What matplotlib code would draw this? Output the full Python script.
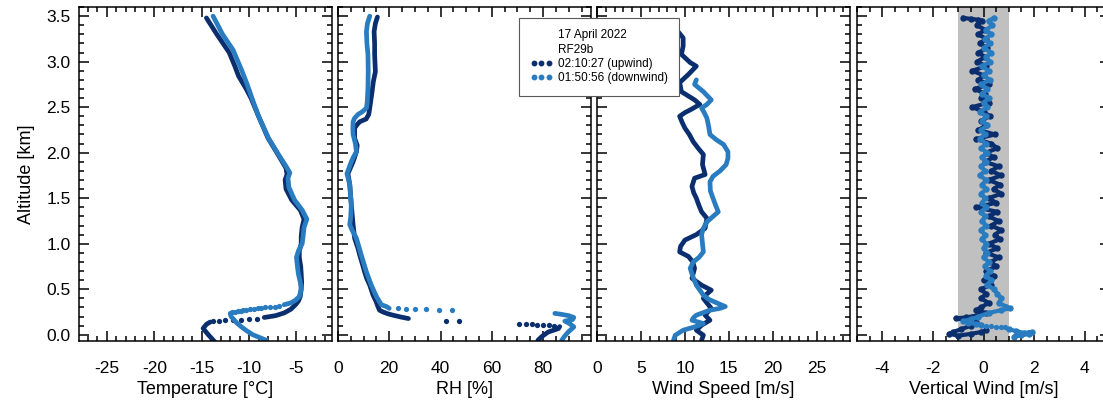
import matplotlib

matplotlib.use('Agg')
import matplotlib.pyplot as plt
from matplotlib.lines import Line2D
from matplotlib.ticker import MultipleLocator

plt.rcParams['font.family'] = ['Liberation Sans', 'DejaVu Sans']
plt.rcParams['axes.unicode_minus'] = False

DARK = '#0b2f6e'   # 02:10:27 upwind
LIGHT = '#2a7cc1'  # 01:50:56 downwind

# ---------------- Temperature [C] ----------------
temp_up_alt = [3.48, 3.30, 3.10, 2.95, 2.84, 2.70, 2.60, 2.40, 2.16, 1.98, 1.83, 1.76, 1.70,
               1.60, 1.48, 1.37, 1.27, 1.18, 1.08, 1.00, 0.92, 0.85, 0.75, 0.67, 0.58, 0.50,
               0.42, 0.37, 0.33, 0.28, 0.24, 0.21, 0.19]
temp_up = [-14.5, -13.4, -12.1, -11.5, -11.1, -10.3, -9.8, -9.0, -8.0, -6.95, -6.1, -6.0, -6.2,
           -6.1, -5.5, -4.6, -4.2, -4.4, -4.5, -4.5, -4.7, -4.7, -4.55, -4.5, -4.45, -4.5,
           -4.6, -4.8, -5.1, -5.6, -6.3, -7.2, -8.4]
temp_up_dots_alt = [0.175, 0.17, 0.165, 0.16, 0.16, 0.155, 0.15]
temp_up_dots = [-9.2, -10.0, -10.9, -11.7, -12.5, -13.2, -13.8]
temp_up_low_alt = [0.14, 0.115, 0.07, 0.0, -0.08]
temp_up_low = [-14.1, -14.5, -14.85, -14.3, -13.6]

temp_dn_alt = [3.50, 3.30, 3.13, 2.91, 2.75, 2.60, 2.40, 2.16, 1.98, 1.85, 1.78, 1.72, 1.62,
               1.48, 1.37, 1.27, 1.18, 1.08, 1.00, 0.92, 0.85, 0.75, 0.67, 0.58, 0.50, 0.42,
               0.38, 0.35, 0.33]
temp_dn = [-13.8, -12.8, -11.7, -10.8, -10.2, -9.7, -9.0, -7.95, -6.9, -6.1, -5.7, -5.9, -5.8,
           -5.2, -4.4, -3.9, -4.2, -4.3, -4.4, -4.8, -5.0, -4.9, -4.8, -4.6, -4.5, -4.7,
           -5.1, -5.6, -6.3]
temp_dn_dots_alt = [0.315, 0.31, 0.305, 0.30, 0.295, 0.29, 0.285, 0.28, 0.275, 0.27, 0.265,
                    0.26, 0.255, 0.25]
temp_dn_dots = [-6.8, -7.3, -7.8, -8.3, -8.7, -9.1, -9.5, -9.9, -10.3, -10.6, -10.9, -11.2,
                -11.5, -11.8]
temp_dn_low_alt = [0.235, 0.20, 0.178, 0.13, 0.086, 0.04, 0.0, -0.06]
temp_dn_low = [-12.0, -11.9, -11.7, -11.3, -10.8, -10.2, -9.6, -8.2]

# ---------------- RH [%] ----------------
rh_up_alt = [3.49, 3.42, 3.33, 3.20, 3.08, 2.89, 2.78, 2.67, 2.49, 2.42, 2.37, 2.34, 2.30, 2.27,
             2.16, 2.08, 2.01, 1.95, 1.90, 1.77, 1.65, 1.43, 1.21, 1.06, 0.95, 0.875, 0.78,
             0.69, 0.62, 0.545, 0.435, 0.37, 0.31, 0.27, 0.25, 0.23, 0.215, 0.195, 0.178]
rh_up = [15.4, 14.6, 14.1, 14.3, 14.3, 14.6, 13.8, 13.3, 12.4, 12.0, 11.0, 8.5, 7.2, 6.5,
         6.5, 7.5, 7.2, 6.5, 5.9, 3.9, 4.6, 5.2, 5.9, 6.5, 7.8, 8.5, 9.5,
         10.4, 11.2, 12.4, 13.7, 14.8, 15.6, 16.2, 17.6, 19.5, 21.5, 24.5, 27.5]
rh_up_dots_alt = [0.15, 0.148, 0.123, 0.12, 0.116, 0.112, 0.108, 0.104, 0.10]
rh_up_dots = [42.0, 47.2, 70.6, 73.2, 75.5, 77.8, 80.0, 82.3, 84.2]
rh_up_low_alt = [0.09, 0.068, 0.03, -0.02, -0.06]
rh_up_low = [86.5, 86.0, 82.0, 79.5, 78.0]

rh_dn_alt = [3.50, 3.42, 3.33, 3.20, 3.08, 2.90, 2.71, 2.55, 2.49, 2.45, 2.42, 2.38, 2.34,
             2.27, 2.20, 2.10, 2.01, 1.95, 1.90, 1.77, 1.65, 1.43, 1.30, 1.21, 1.15, 1.06,
             0.875, 0.69, 0.545, 0.42, 0.33, 0.31, 0.29]
rh_dn = [12.4, 11.5, 11.1, 11.3, 11.7, 11.8, 11.7, 11.4, 11.1, 9.5, 7.8, 6.5, 5.9,
         5.8, 5.9, 6.8, 7.2, 6.0, 5.2, 3.5, 4.6, 5.2, 5.0, 4.6, 5.5, 7.2,
         9.1, 11.1, 13.0, 15.0, 16.9, 18.9, 20.0]
rh_dn_dots_alt = [0.29, 0.288, 0.285, 0.28, 0.275, 0.27]
rh_dn_dots = [23.4, 26.4, 29.9, 34.2, 39.3, 44.6]
rh_dn_low_alt = [0.235, 0.225, 0.21, 0.19, 0.167, 0.15, 0.12, 0.086, 0.06, 0.03, -0.02, -0.06]
rh_dn_low = [84.6, 87.0, 90.0, 92.0, 91.5, 88.5, 90.5, 92.0, 91.0, 89.8, 88.3, 87.3]

# ---------------- Wind speed [m/s] ----------------
ws_up_alt = [3.35, 3.26, 3.17, 3.08, 2.99, 2.95, 2.90, 2.86, 2.77, 2.67, 2.58, 2.53, 2.47, 2.44,
             2.40, 2.33, 2.27, 2.20, 2.12, 2.05, 1.98, 1.87, 1.76, 1.72, 1.63, 1.56, 1.50,
             1.42, 1.35, 1.28, 1.17, 1.10, 1.04, 0.97, 0.91, 0.86, 0.80, 0.73, 0.62, 0.545,
             0.49, 0.44, 0.40, 0.35, 0.29, 0.25, 0.215, 0.16, 0.105, 0.05, -0.005, -0.06]
ws_up = [9.05, 9.8, 9.8, 9.6, 10.6, 11.3, 10.8, 10.4, 9.4, 9.6, 11.1, 11.7, 10.6, 10.0,
         9.4, 9.7, 10.0, 10.5, 10.95, 11.5, 12.1, 12.0, 12.3, 11.1, 10.8, 11.0, 11.3,
         11.6, 11.9, 12.5, 12.3, 11.3, 10.0, 9.5, 9.4, 10.4, 10.9, 11.1, 10.8, 11.9,
         13.0, 12.4, 12.1, 12.5, 13.0, 12.6, 12.3, 12.85, 11.9, 11.3, 12.1, 11.9]

ws_dn_alt = [2.80, 2.75, 2.67, 2.58, 2.53, 2.49, 2.44, 2.38, 2.29, 2.20, 2.14, 2.09, 2.01, 1.94,
             1.87, 1.80, 1.74, 1.68, 1.58, 1.50, 1.42, 1.35, 1.30, 1.24, 1.17, 1.10, 1.00,
             0.91, 0.85, 0.80, 0.73, 0.64, 0.545, 0.49, 0.435, 0.39, 0.36, 0.33, 0.31, 0.29,
             0.27, 0.24, 0.215, 0.19, 0.16, 0.14, 0.123, 0.10, 0.086, 0.05, -0.005, -0.06]
ws_dn = [11.3, 11.1, 12.1, 13.0, 12.5, 11.9, 12.2, 12.5, 12.7, 12.85, 13.6, 14.4, 14.9, 14.9,
         14.7, 14.0, 13.2, 12.85, 12.9, 13.2, 13.5, 13.8, 13.2, 12.5, 12.1, 11.9, 12.0,
         12.1, 11.6, 10.95, 10.6, 10.9, 11.3, 11.7, 12.1, 12.7, 13.4, 14.1, 14.6, 14.0,
         12.85, 12.0, 11.3, 11.0, 10.8, 11.5, 12.1, 11.5, 11.1, 9.8, 8.9, 8.7]

# ---------------- Vertical wind [m/s] ----------------
vw_up_alt = [3.48, 3.47, 3.46, 3.45, 3.40, 3.35, 3.30, 3.25, 3.20, 3.15, 3.10, 3.05, 3.00,
             2.95, 2.90, 2.85, 2.80, 2.75, 2.70, 2.65, 2.60, 2.55, 2.50, 2.45, 2.40, 2.35,
             2.30, 2.25, 2.20, 2.15, 2.10, 2.05, 2.00, 1.95, 1.90, 1.85, 1.80, 1.75, 1.70,
             1.65, 1.60, 1.55, 1.50, 1.45, 1.40, 1.35, 1.30, 1.25, 1.20, 1.15, 1.10, 1.05,
             1.00, 0.95, 0.90, 0.85, 0.80, 0.75, 0.70, 0.65, 0.60, 0.55, 0.50, 0.45, 0.40,
             0.35, 0.30, 0.27, 0.24, 0.21, 0.19, 0.18, 0.17, 0.16, 0.14, 0.10, 0.06, 0.03,
             0.01, -0.01, 0.01, 0.03, 0.05]
vw_up = [-0.8, -0.5, -0.2, -0.05, -0.25, 0.05, -0.2, 0.1, -0.15, 0.15, -0.2, 0.05, -0.25,
         0.1, -0.45, 0.0, -0.2, 0.2, -0.35, 0.05, -0.1, 0.2, -0.45, 0.0, 0.25, -0.1,
         0.1, -0.2, 0.45, -0.3, 0.3, 0.55, 0.1, 0.4, 0.05, 0.6, 0.3, 0.7, 0.2,
         0.65, 0.4, 0.7, 0.2, 0.5, -0.3, 0.55, 0.2, 0.6, 0.3, 0.7, 0.45, 0.65,
         0.2, 0.55, 0.1, 0.6, 0.3, 0.5, 0.1, 0.4, 0.0, 0.3, -0.1, 0.1, -0.1,
         0.2, -0.1, -0.3, 0.1, -0.3, -0.7, -1.1, -0.8, -0.5, -0.3, -0.5, -0.9, -1.2,
         -1.35, -1.0, -0.5, -0.1, 0.1]

vw_dn_alt = [3.48, 3.45, 3.40, 3.35, 3.30, 3.25, 3.20, 3.15, 3.10, 3.05, 3.00, 2.95, 2.90,
             2.85, 2.80, 2.75, 2.70, 2.65, 2.60, 2.55, 2.50, 2.45, 2.40, 2.35, 2.30, 2.25,
             2.20, 2.15, 2.10, 2.05, 2.00, 1.95, 1.90, 1.85, 1.80, 1.75, 1.70, 1.65, 1.60,
             1.55, 1.50, 1.45, 1.40, 1.35, 1.30, 1.25, 1.20, 1.15, 1.10, 1.05, 1.00, 0.95,
             0.90, 0.85, 0.80, 0.75, 0.70, 0.65, 0.60, 0.55, 0.50, 0.45, 0.40, 0.35, 0.31,
             0.29, 0.27, 0.24, 0.20, 0.17, 0.15, 0.13, 0.12, 0.11]
vw_dn = [0.4, 0.2, 0.35, 0.1, 0.3, 0.05, 0.25, 0.0, 0.3, 0.1, 0.25, -0.05, 0.2,
         0.0, 0.25, -0.1, 0.15, -0.05, 0.2, 0.0, 0.15, -0.15, 0.1, -0.05, 0.15, -0.1,
         0.05, -0.15, 0.1, -0.1, 0.15, -0.05, 0.1, -0.1, 0.05, -0.15, 0.1, -0.05, 0.1,
         -0.1, 0.05, -0.05, 0.1, -0.1, 0.05, -0.05, 0.1, -0.1, 0.05, -0.05, 0.1, 0.0,
         0.15, 0.0, 0.2, 0.05, 0.25, 0.1, 0.3, 0.15, 0.4, 0.55, 0.7, 0.6, 0.9,
         1.05, 0.7, 0.2, -0.2, -0.5, -0.8, -0.6, -0.3, -0.1]
vw_dn_dots_alt = [0.10, 0.095, 0.09, 0.085, 0.08]
vw_dn_dots = [0.1, 0.3, 0.5, 0.7, 0.85]
vw_dn_low_alt = [0.06, 0.04, 0.02, 0.03, 0.0, -0.02, 0.01]
vw_dn_low = [1.0, 1.3, 1.6, 1.9, 1.5, 1.2, 1.8]

fig = plt.figure(figsize=(11.03, 4.13), dpi=100)
lefts = [0.0716, 0.3064, 0.5413, 0.777]
axes = [fig.add_axes([l, 0.174, 0.2294, 0.809]) for l in lefts]

settings = [
    ((-27.95, -1.25), 5, 1, u'Temperature [\u00b0C]'),
    ((0, 98.7), 20, 5, 'RH [%]'),
    ((0, 28.8), 5, 1, 'Wind Speed [m/s]'),
    ((-5, 5), 2, 0.5, 'Vertical Wind [m/s]'),
]

for i, (ax, (xlim, major, minor, xlabel)) in enumerate(zip(axes, settings)):
    ax.set_xlim(xlim)
    ax.set_ylim(-0.07, 3.6)
    ax.xaxis.set_major_locator(MultipleLocator(major))
    ax.xaxis.set_minor_locator(MultipleLocator(minor))
    ax.yaxis.set_major_locator(MultipleLocator(0.5))
    ax.yaxis.set_minor_locator(MultipleLocator(0.1))
    ax.tick_params(which='both', direction='in', top=True, right=True, width=1.1)
    ax.tick_params(which='major', length=7, labelsize=12.5)
    ax.tick_params(which='minor', length=3.5)
    ax.tick_params(axis='x', pad=14)
    ax.tick_params(axis='y', pad=6)
    ax.set_xlabel(xlabel, fontsize=13, labelpad=4)
    for s in ax.spines.values():
        s.set_linewidth(1.1)
    if i > 0:
        ax.tick_params(labelleft=False)

axes[0].yaxis.set_major_formatter(plt.FormatStrFormatter('%.1f'))
axes[0].set_ylabel('Altitude [km]', fontsize=13, labelpad=8)

line_kw = dict(lw=3.4, solid_capstyle='round', solid_joinstyle='round')
dot_kw = dict(ls='none', marker='o', ms=3.8, mec='none')
vw_kw = dict(lw=3.0, marker='o', ms=4.6, mec='none')

ax = axes[0]
ax.plot(temp_up, temp_up_alt, color=DARK, **line_kw)
ax.plot(temp_up_dots, temp_up_dots_alt, color=DARK, **dot_kw)
ax.plot(temp_up_low, temp_up_low_alt, color=DARK, **line_kw)
ax.plot(temp_dn, temp_dn_alt, color=LIGHT, **line_kw)
ax.plot(temp_dn_dots, temp_dn_dots_alt, color=LIGHT, **dot_kw)
ax.plot(temp_dn_low, temp_dn_low_alt, color=LIGHT, **line_kw)

ax = axes[1]
ax.plot(rh_up, rh_up_alt, color=DARK, **line_kw)
ax.plot(rh_up_dots, rh_up_dots_alt, color=DARK, **dot_kw)
ax.plot(rh_up_low, rh_up_low_alt, color=DARK, **line_kw)
ax.plot(rh_dn, rh_dn_alt, color=LIGHT, **line_kw)
ax.plot(rh_dn_dots, rh_dn_dots_alt, color=LIGHT, **dot_kw)
ax.plot(rh_dn_low, rh_dn_low_alt, color=LIGHT, **line_kw)

ax = axes[2]
ax.plot(ws_up, ws_up_alt, color=DARK, **line_kw)
ax.plot(ws_dn, ws_dn_alt, color=LIGHT, **line_kw)

ax = axes[3]
ax.axvspan(-1, 1, color='#c0c0c0', lw=0, zorder=0)
ax.plot(vw_up, vw_up_alt, color=DARK, **vw_kw)
ax.plot(vw_dn, vw_dn_alt, color=LIGHT, **vw_kw)
ax.plot(vw_dn_dots, vw_dn_dots_alt, color=LIGHT, **dot_kw)
ax.plot(vw_dn_low, vw_dn_low_alt, color=LIGHT, **vw_kw)

blank = Line2D([], [], ls='none')
handles = [blank, blank,
           Line2D([], [], ls='none', marker='o', ms=3.2, color=DARK),
           Line2D([], [], ls='none', marker='o', ms=3.2, color=LIGHT)]
labels = ['17 April 2022', 'RF29b', '02:10:27 (upwind)', '01:50:56 (downwind)']
leg = fig.legend(handles, labels, loc='upper left', bbox_to_anchor=(0.4705, 0.9564),
                 numpoints=3, fontsize=8.5, fancybox=False, edgecolor='0.35',
                 framealpha=1, handlelength=1.9, handletextpad=0.45, labelspacing=0.2,
                 borderpad=0.95, borderaxespad=0)
leg.get_frame().set_linewidth(0.8)

fig.savefig('out.png', dpi=100)
plt.close(fig)
